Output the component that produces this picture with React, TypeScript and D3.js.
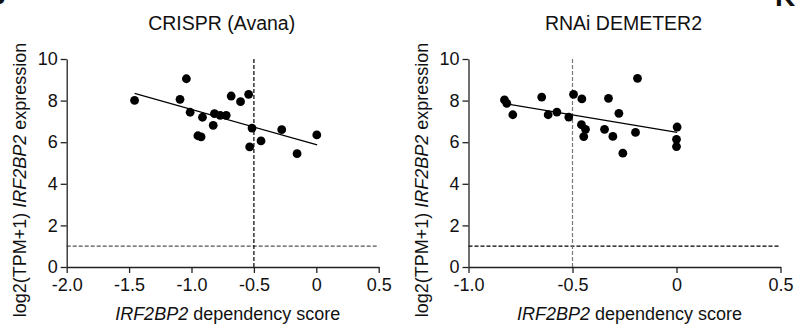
import React, { useEffect, useRef } from "react";
import * as d3 from "d3";

// CRISPR (Avana) panel
const crisprScore = [
  -1.456, -1.092, -1.041, -1.011, -0.912, -0.949, -0.923, -0.826, -0.816, -0.77,
  -0.722, -0.682, -0.607, -0.542, -0.515, -0.534, -0.443, -0.277, -0.154, 0.004,
];
const crisprExpr = [
  8.01, 8.06, 9.05, 7.44, 7.2, 6.31, 6.26, 6.81, 7.37, 7.29, 7.29, 8.22, 7.95,
  8.3, 6.68, 5.78, 6.06, 6.6, 5.45, 6.35,
];
const crisprTicks = [-2.0, -1.5, -1.0, -0.5, 0, 0.5];
// fitted line as drawn in the figure: [score, expression] at both ends
const crisprFit: [number, number][] = [
  [-1.456, 8.35],
  [0.007, 5.87],
];

// RNAi DEMETER2 panel
const rnaiScore = [
  -0.827, -0.816, -0.787, -0.648, -0.617, -0.575, -0.518, -0.495, -0.455, -0.457,
  -0.4375, -0.446, -0.346, -0.327, -0.306, -0.277, -0.258, -0.197, -0.1875,
  0.003, 0, 0,
];
const rnaiExpr = [
  8.03, 7.87, 7.32, 8.17, 7.32, 7.45, 7.21, 8.3, 8.08, 6.84, 6.62, 6.27, 6.62,
  8.11, 6.28, 7.39, 5.47, 6.47, 9.07, 6.73, 6.14, 5.79,
];
const rnaiTicks = [-1.0, -0.5, 0, 0.5];
const rnaiFit: [number, number][] = [
  [-0.82, 7.85],
  [0.003, 6.47],
];

const yTicks = [0, 2, 4, 6, 8, 10];
const cutoffScore = -0.5;
const cutoffExpr = 1;

const FONT = "'Liberation Sans', Arial, Helvetica, sans-serif";

const fmt = (v: number) => (v === 0 ? "0" : v.toFixed(1));

type PanelProps = {
  title: string;
  xs: number[];
  ys: number[];
  fitLine: [number, number][];
  xTicks: number[];
  left: number;
  vColor: string;
  hColor: string;
};

const Panel = ({ title, xs, ys, fitLine, xTicks, left, vColor, hColor }: PanelProps) => {
  const xAxisRef = useRef<SVGGElement>(null);
  const yAxisRef = useRef<SVGGElement>(null);
  const top = 59;
  const bottom = 267;
  const width = 312;

  const x = d3
    .scaleLinear()
    .domain(d3.extent(xTicks) as [number, number])
    .range([left, left + width]);
  const y = d3.scaleLinear().domain([0, 10]).range([bottom, top]);

  useEffect(() => {
    const xa = d3.select(xAxisRef.current!);
    xa.call(
      d3
        .axisBottom(x)
        .tickValues(xTicks)
        .tickFormat((d) => fmt(+d))
        .tickSize(6)
        .tickSizeOuter(0)
        .tickPadding(5)
    );
    const ya = d3.select(yAxisRef.current!);
    ya.call(
      d3
        .axisLeft(y)
        .tickValues(yTicks)
        .tickFormat((d) => String(d))
        .tickSize(6)
        .tickSizeOuter(0)
        .tickPadding(3)
    );
    [xa, ya].forEach((g) => {
      g.selectAll("path, line").attr("stroke", "#222").attr("stroke-width", 1.3);
      g.selectAll("text")
        .attr("fill", "#111")
        .style("font-family", FONT)
        .style("font-size", "18px");
    });
  }, []);

  const line = d3
    .line<[number, number]>()
    .x((d) => x(d[0]))
    .y((d) => y(d[1]));
  const cx = left + width / 2;

  return (
    <g>
      <text
        x={cx - 1}
        y={30}
        textAnchor="middle"
        fontFamily={FONT}
        fontSize={19.5}
        fill="#111"
      >
        {title}
      </text>
      <line
        x1={x(x.domain()[0])}
        x2={x(x.domain()[1])}
        y1={y(cutoffExpr)}
        y2={y(cutoffExpr)}
        stroke={hColor}
        strokeWidth={1.2}
        strokeDasharray="4 2"
      />
      <line
        x1={x(cutoffScore)}
        x2={x(cutoffScore)}
        y1={y(10)}
        y2={y(0)}
        stroke={vColor}
        strokeWidth={1.2}
        strokeDasharray="4 2"
      />
      <g ref={xAxisRef} transform={`translate(0,${bottom})`} />
      <g ref={yAxisRef} transform={`translate(${left},0)`} />
      {xs.map((v, i) => (
        <circle key={i} cx={x(v)} cy={y(ys[i])} r={4.4} fill="#000" />
      ))}
      <path d={line(fitLine) ?? ""} stroke="#000" strokeWidth={1.2} fill="none" />
      <text
        transform={`translate(${left - 41},180) rotate(-90)`}
        textAnchor="middle"
        fontFamily={FONT}
        fontSize={18}
        fill="#111"
      >
        log2(TPM+1) <tspan fontStyle="italic">IRF2BP2</tspan> expression
      </text>
      <text
        x={cx + 5}
        y={320}
        textAnchor="middle"
        fontFamily={FONT}
        fontSize={18}
        fill="#111"
      >
        <tspan fontStyle="italic">IRF2BP2</tspan> dependency score
      </text>
    </g>
  );
};

const App = () => (
  <svg
    width={798}
    height={325}
    style={{ position: "absolute", left: 0, top: 0, background: "#fff" }}
  >
    <text x={-9} y={4} fontFamily={FONT} fontWeight="bold" fontSize={28} fill="#111">
      J
    </text>
    <text x={775} y={6} fontFamily={FONT} fontWeight="bold" fontSize={28} fill="#111">
      K
    </text>
    <Panel
      title="CRISPR (Avana)"
      xs={crisprScore}
      ys={crisprExpr}
      fitLine={crisprFit}
      xTicks={crisprTicks}
      left={66.7}
      vColor="#000"
      hColor="#555"
    />
    <Panel
      title="RNAi DEMETER2"
      xs={rnaiScore}
      ys={rnaiExpr}
      fitLine={rnaiFit}
      xTicks={rnaiTicks}
      left={468.5}
      vColor="#777"
      hColor="#000"
    />
  </svg>
);

export default App;
